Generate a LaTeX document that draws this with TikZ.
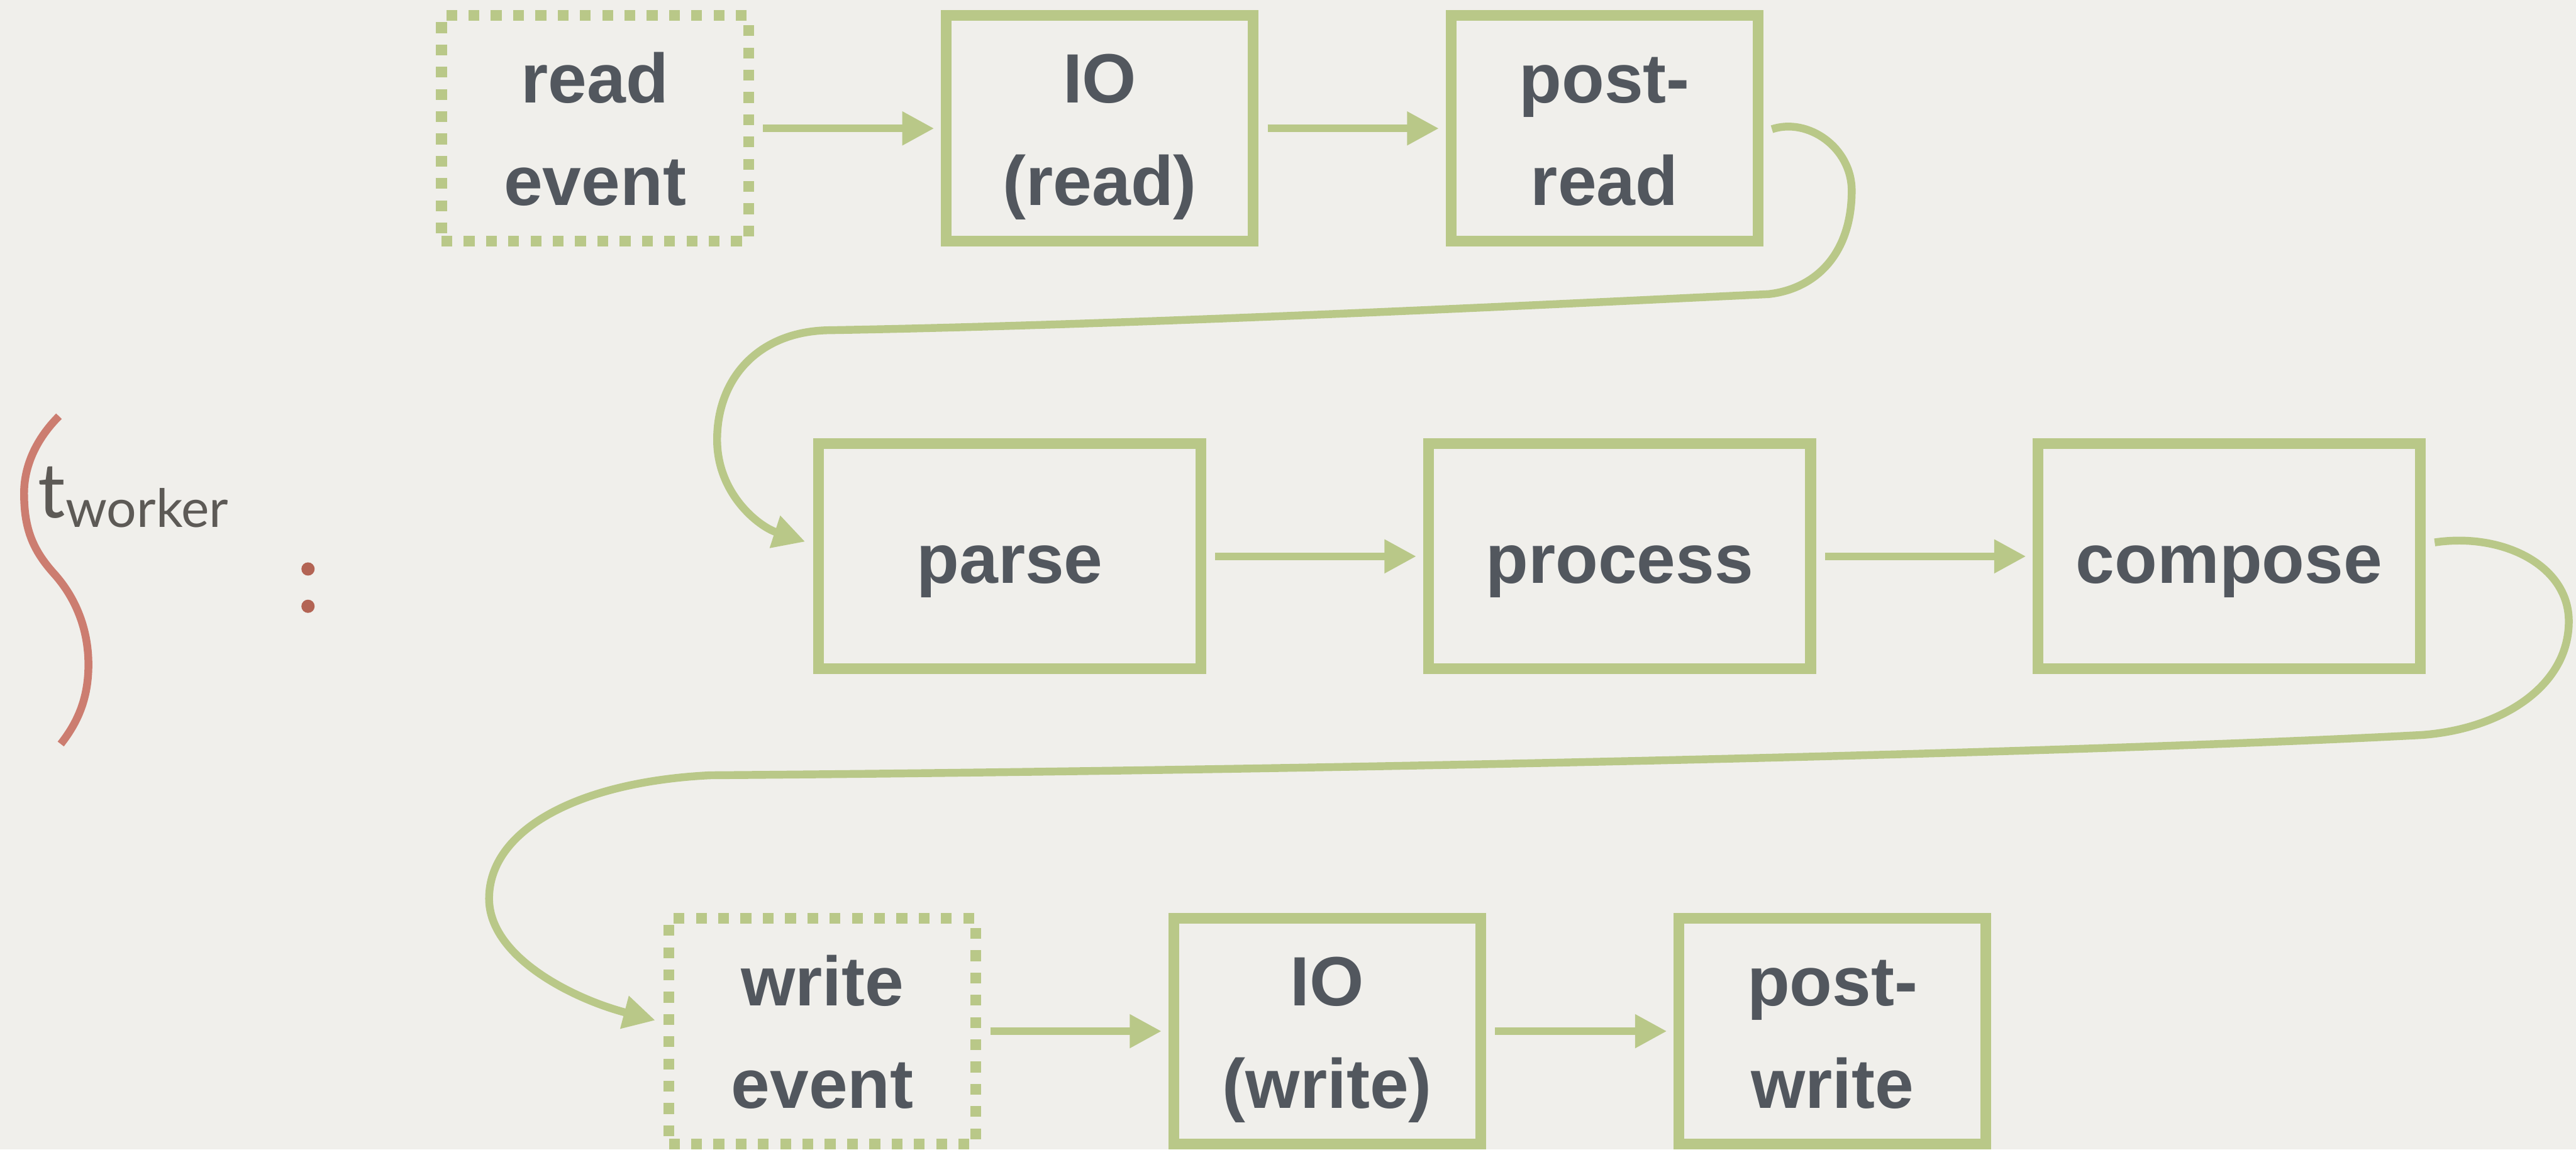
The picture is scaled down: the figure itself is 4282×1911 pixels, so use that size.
\documentclass[tikz,border=0pt]{standalone}
\usepackage{fontspec}
\setmainfont{Liberation Sans}
\newfontfamily\workerfont{Lato}
\usetikzlibrary{arrows.meta}

\definecolor{paper}{RGB}{240,239,235}
\definecolor{leaf}{RGB}{185,200,136}
\definecolor{slate}{RGB}{82,87,94}
\definecolor{brick}{RGB}{204,125,112}
\definecolor{brickdot}{RGB}{179,100,84}
\definecolor{ink}{RGB}{93,90,86}

\begin{document}
\begin{tikzpicture}[x=0.01cm, y=-0.01cm,
  stage/.style={draw=leaf, line width=0.18cm, rectangle, inner sep=0pt,
    text=slate, font=\fontsize{33pt}{48.4pt}\selectfont\bfseries,
    align=center, text depth=0pt},
  tallbox/.style={stage, minimum width=5.1cm, minimum height=3.75cm, text height=2.55cm},
  widebox/.style={stage, minimum width=6.35cm, minimum height=3.74cm, text height=0.9cm},
  eventbox/.style={tallbox, dash pattern=on 0.18cm off 0.19cm},
  flow/.style={draw=leaf, line width=0.13cm,
    -{Triangle[length=0.53cm,width=0.53cm]},
    shorten <=0.15cm, shorten >=0.11cm},
]
% paper
\fill[paper] (0,0) rectangle (4282,1911);
\useasboundingbox (0,0) rectangle (4282,1911);

% worker thread marker
\draw[brick, line width=0.13cm]
  (98,692) .. controls (60,730) and (40,775) .. (40,820)
  .. controls (40,880) and (55,915) .. (90,954)
  .. controls (125,993) and (147,1045) .. (147,1105)
  .. controls (147,1160) and (130,1200) .. (101,1237);
\node[anchor=base west, inner sep=0pt, text=ink] (tw) at (63,861)
  {\workerfont\fontsize{36pt}{36pt}\selectfont t\raisebox{-0.16cm}{\fontsize{25pt}{25pt}\selectfont worker}};
\fill[brickdot] (512,946) circle (0.11cm);
\fill[brickdot] (512,1008) circle (0.11cm);

% read stage
\node[eventbox] (re)  at (989,213.5)  {read\\event};
\node[tallbox]  (ior) at (1828,213.5) {IO\\(read)};
\node[tallbox]  (pr)  at (2667,213.5) {post-\\read};

% processing stage
\node[widebox] (pa) at (1678.5,925) {parse};
\node[widebox] (pc) at (2692,925)   {process};
\node[widebox] (co) at (3705.5,925) {compose};

% write stage
\node[eventbox] (we)  at (1367,1714.5) {write\\event};
\node[tallbox]  (iow) at (2206,1714.5) {IO\\(write)};
\node[tallbox]  (pw)  at (3046,1714.5) {post-\\write};

% straight hand-offs
\draw[flow] (re) -- (ior);
\draw[flow] (ior) -- (pr);
\draw[flow] (pa) -- (pc);
\draw[flow] (pc) -- (co);
\draw[flow] (we) -- (iow);
\draw[flow] (iow) -- (pw);

% wrap-around hand-offs
\draw[flow, shorten >=0.14cm] ([yshift=-0.06cm]pr.east)
  .. controls (3005,195) and (3078,245) .. (3078,317)
  .. controls (3078,420) and (3020,480) .. (2940,489)
  .. controls (2600,505) and (1900,540) .. (1380,549)
  .. controls (1260,550) and (1192,630) .. (1192,731)
  .. controls (1192,820) and (1260,875) .. ([yshift=0.2cm]pa.west);

\draw[flow, shorten >=0.14cm] ([yshift=0.21cm]co.east)
  .. controls (4160,885) and (4270,940) .. (4270,1033)
  .. controls (4270,1140) and (4160,1212) .. (4026,1222)
  .. controls (3500,1250) and (2300,1280) .. (1180,1289)
  .. controls (960,1300) and (813,1380) .. (813,1494)
  .. controls (813,1590) and (950,1660) .. ([yshift=0.145cm]we.west);
\end{tikzpicture}
\end{document}
